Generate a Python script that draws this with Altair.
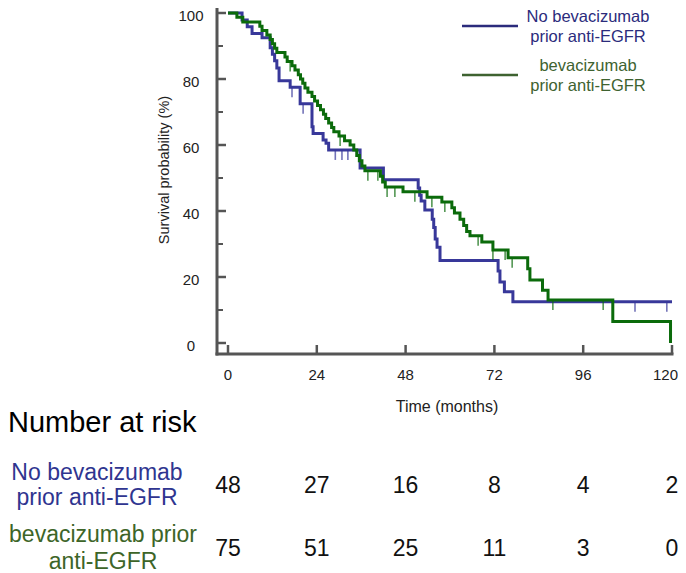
import altair as alt
import pandas as pd
import numpy as np

# ---------------- data ----------------
blue_t = [0, 3.8, 5.2, 6.5, 9.2, 11.4, 12.0, 12.6, 13.2, 13.8, 16.8, 19.5, 22.7, 23.0, 25.7,
          26.5, 27.2, 35.7, 42.0, 51.4, 51.8, 52.2, 53.2, 55.2, 55.6, 56.0, 56.5, 57.3, 73.0,
          73.5, 74.7, 77.0, 120.0]
blue_s = [100, 97.9, 95.8, 93.8, 92.5, 89.5, 87.5, 85.5, 83.3, 79.5, 77.5, 72.5, 65.5, 63.5, 61.5,
          60.5, 58.5, 53.0, 49.5, 47.0, 44.8, 43.0, 40.3, 37.5, 35.0, 31.5, 29.0, 25.0, 21.8,
          18.5, 15.5, 12.5, 12.5]

green_t = [0, 2.4, 4.0, 8.6, 9.2, 10.5, 11.4, 12.0, 12.6, 13.2, 15.4, 16.0, 17.3, 18.1, 19.0,
           19.6, 20.2, 20.8, 21.6, 22.7, 23.4, 24.2, 25.0, 25.8, 26.4, 27.2, 28.0, 28.6, 30.0,
           31.5, 33.0, 34.0, 34.8, 35.5, 36.2, 37.0, 41.2, 41.8, 42.5, 47.3, 53.8, 57.8, 60.5,
           61.2, 62.7, 63.7, 64.5, 65.4, 68.6, 71.6, 75.7, 81.0, 81.6, 85.0, 86.5, 104.0, 119.6]
green_s = [100, 98.7, 97.3, 96.0, 94.7, 93.3, 92.0, 90.7, 89.3, 88.0, 86.7, 85.3, 84.0, 82.7, 81.3,
           80.0, 78.7, 77.3, 76.0, 74.7, 73.3, 72.0, 70.7, 69.3, 68.0, 66.7, 65.3, 64.0, 62.7,
           61.3, 60.0, 58.5, 56.8, 55.2, 53.6, 52.2, 50.5, 48.8, 47.3, 45.8, 44.2, 42.7, 41.0,
           39.4, 37.5, 35.6, 33.8, 32.5, 30.6, 28.2, 25.8, 22.5, 19.1, 16.0, 13.0, 6.5, 0]

blue_cens_t = [17.3, 20.3, 29.0, 30.8, 32.4, 110.0, 118.6]
green_cens_t = [16.8, 30.3, 37.8, 40.5, 43.0, 45.1, 50.5, 55.1, 58.6, 67.6, 71.6, 74.9, 76.8,
                87.8, 101.4]

risk_times = [0, 24, 48, 72, 96, 120]
risk_blue = [48, 27, 16, 8, 4, 2]
risk_green = [75, 51, 25, 11, 3, 0]

x_major = [0, 24, 48, 72, 96, 120]
y_major = [0, 20, 40, 60, 80, 100]
y_minor = [10, 30, 50, 70, 90]

# ---------------- styling ----------------
FONT = "Liberation Sans"
BLUE_LINE = "#38389a"
GREEN_LINE = "#0b6b0b"
BLUE_TEXT = "#2f3590"
GREEN_TEXT = "#3d6528"
LEG_BLUE = "#2b2b7c"
LEG_GREEN = "#3e6230"
AXIS = "#555555"
W, H = 444, 330


def surv_at(ts, ss, t):
    i = np.searchsorted(np.array(ts), t, side="right") - 1
    return ss[i]


blue_df = pd.DataFrame({"t": blue_t, "s": blue_s})
green_df = pd.DataFrame({"t": green_t, "s": green_s})
bc_df = pd.DataFrame({"t": blue_cens_t, "s": [surv_at(blue_t, blue_s, t) for t in blue_cens_t]})
gc_df = pd.DataFrame({"t": green_cens_t, "s": [surv_at(green_t, green_s, t) for t in green_cens_t]})
risk_df = pd.DataFrame({"t": risk_times, "b": [str(v) for v in risk_blue],
                        "g": [str(v) for v in risk_green]})
xt_df = pd.DataFrame({"v": x_major, "lab": [str(v) for v in x_major]})
yt_df = pd.DataFrame({"v": y_major, "lab": [str(v) for v in y_major]})
ym_df = pd.DataFrame({"v": y_minor})
one = pd.DataFrame({"k": [0]})

xs = alt.Scale(domain=[0, 120], nice=False, zero=False)
ys = alt.Scale(domain=[0, 100], nice=False, zero=False)
X = lambda f: alt.X(f, scale=xs, axis=None)
Y = lambda f: alt.Y(f, scale=ys, axis=None)

layers = []

# axes (drawn by hand so the ticks point inward and the axes sit off the data)
layers.append(alt.Chart(one).mark_rule(color=AXIS, strokeWidth=3).encode(
    x=alt.value(-11), y=alt.value(-6), y2=alt.value(342.5)))
layers.append(alt.Chart(one).mark_rule(color=AXIS, strokeWidth=3).encode(
    x=alt.value(-12.5), x2=alt.value(445.5), y=alt.value(341)))
layers.append(alt.Chart(yt_df).mark_rule(color=AXIS, strokeWidth=2.5).encode(
    y=Y("v:Q"), x=alt.value(-11), x2=alt.value(-2)))
layers.append(alt.Chart(ym_df).mark_rule(color=AXIS, strokeWidth=2).encode(
    y=Y("v:Q"), x=alt.value(-11), x2=alt.value(-5)))
layers.append(alt.Chart(xt_df).mark_rule(color=AXIS, strokeWidth=2.5).encode(
    x=X("v:Q"), y=alt.value(341), y2=alt.value(332)))
layers.append(alt.Chart(yt_df).mark_text(font=FONT, fontSize=15, color="#222222",
                                          align="center", baseline="middle", dy=2.5).encode(
    y=Y("v:Q"), x=alt.value(-37), text="lab:N"))
layers.append(alt.Chart(xt_df[xt_df.v < 120]).mark_text(font=FONT, fontSize=15, color="#222222",
                                                         align="center", baseline="middle").encode(
    x=X("v:Q"), y=alt.value(362), text="lab:N"))
layers.append(alt.Chart(xt_df[xt_df.v == 120]).mark_text(font=FONT, fontSize=15, color="#222222",
                                                          align="right", dx=6,
                                                          baseline="middle").encode(
    x=X("v:Q"), y=alt.value(362), text="lab:N"))
layers.append(alt.Chart(one).mark_text(font=FONT, fontSize=16, color="#222222",
                                        text="Time (months)", align="center",
                                        baseline="middle").encode(
    x=alt.value(219), y=alt.value(394)))
layers.append(alt.Chart(one).mark_text(font=FONT, fontSize=14.5, color="#222222",
                                        text="Survival probability (%)", angle=270,
                                        align="center", baseline="middle").encode(
    x=alt.value(-63), y=alt.value(157)))

# survival curves
layers.append(alt.Chart(blue_df).mark_line(interpolate="step-after", strokeWidth=3,
                                            color=BLUE_LINE).encode(x=X("t:Q"), y=Y("s:Q")))
layers.append(alt.Chart(green_df).mark_line(interpolate="step-after", strokeWidth=3,
                                             color=GREEN_LINE).encode(x=X("t:Q"), y=Y("s:Q")))
layers.append(alt.Chart(bc_df).mark_tick(orient="vertical", size=10, thickness=1.6,
                                          yOffset=5, color=BLUE_LINE).encode(
    x=X("t:Q"), y=Y("s:Q")))
layers.append(alt.Chart(gc_df).mark_tick(orient="vertical", size=10, thickness=1.6,
                                          yOffset=5, color=GREEN_LINE).encode(
    x=X("t:Q"), y=Y("s:Q")))

# legend
layers.append(alt.Chart(one).mark_rule(color=LEG_BLUE, strokeWidth=2.5).encode(
    x=alt.value(234), x2=alt.value(290), y=alt.value(13)))
layers.append(alt.Chart(one).mark_rule(color=LEG_GREEN, strokeWidth=2.5).encode(
    x=alt.value(234), x2=alt.value(290), y=alt.value(62)))
layers.append(alt.Chart(one).mark_text(font=FONT, fontSize=16.5, color=LEG_BLUE,
                                        text=["No bevacizumab", "prior anti-EGFR"],
                                        lineHeight=20, align="center",
                                        baseline="middle").encode(
    x=alt.value(360), y=alt.value(3.8)))
layers.append(alt.Chart(one).mark_text(font=FONT, fontSize=16.5, color=LEG_GREEN,
                                        text=["bevacizumab", "prior anti-EGFR"],
                                        lineHeight=20, align="center",
                                        baseline="middle").encode(
    x=alt.value(360), y=alt.value(52.5)))

# number-at-risk table
layers.append(alt.Chart(one).mark_text(font=FONT, fontSize=29, color="#000000",
                                        text="Number at risk", align="left",
                                        baseline="middle").encode(
    x=alt.value(-220), y=alt.value(410)))
layers.append(alt.Chart(one).mark_text(font=FONT, fontSize=23, color=BLUE_TEXT,
                                        text=["No bevacizumab", "prior anti-EGFR"],
                                        lineHeight=25, align="center",
                                        baseline="middle").encode(
    x=alt.value(-131), y=alt.value(460)))
layers.append(alt.Chart(one).mark_text(font=FONT, fontSize=23, color=GREEN_TEXT,
                                        text=["bevacizumab prior", "anti-EGFR"],
                                        lineHeight=27, align="center",
                                        baseline="middle").encode(
    x=alt.value(-125), y=alt.value(522)))
layers.append(alt.Chart(risk_df).mark_text(font=FONT, fontSize=23, color="#111111",
                                            align="center", baseline="middle").encode(
    x=X("t:Q"), y=alt.value(472.5), text="b:N"))
layers.append(alt.Chart(risk_df).mark_text(font=FONT, fontSize=23, color="#111111",
                                            align="center", baseline="middle").encode(
    x=X("t:Q"), y=alt.value(535.5), text="g:N"))

chart = alt.layer(*layers).properties(
    width=W, height=H,
    autosize=alt.AutoSizeParams(type="none"),
    padding={"left": 220, "top": 5, "right": 6, "bottom": 238},
).configure_view(stroke=None)

chart.save("out.html", embed_options={"renderer": "svg", "actions": False})
